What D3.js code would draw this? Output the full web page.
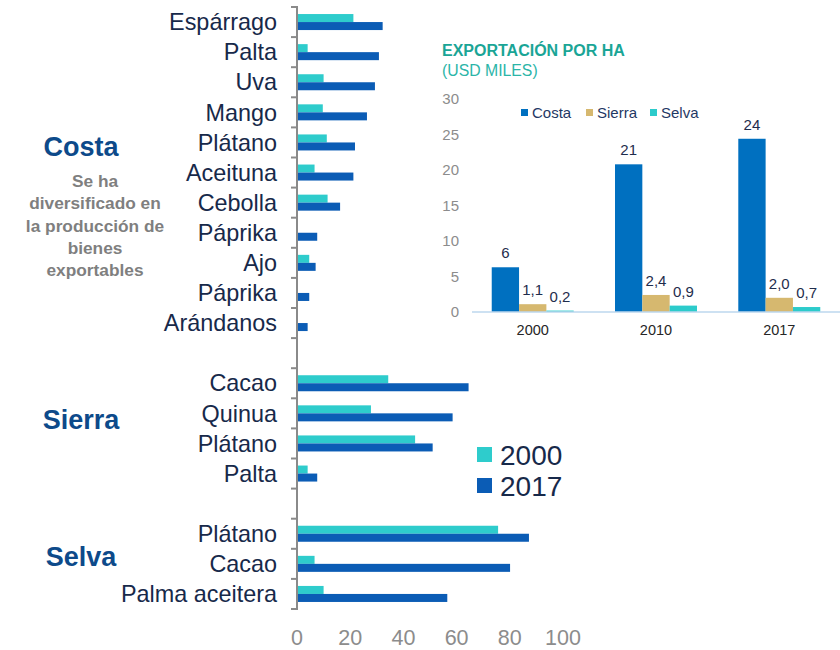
<!DOCTYPE html>
<html>
<head>
<meta charset="utf-8">
<script src="https://cdn.jsdelivr.net/npm/d3@7"></script>
<style>
  body { margin: 0; background: #fff; }
  svg { font-family: "Liberation Sans", Arial, sans-serif; }
</style>
</head>
<body>
<svg id="chart" width="840" height="650"></svg>
<script>
// Main chart data (USD miles por ha, 2000 vs 2017)
const crops = ["Espárrago", "Palta", "Uva", "Mango", "Plátano", "Aceituna", "Cebolla", "Páprika", "Ajo", "Páprika", "Arándanos",
               "", "Cacao", "Quinua", "Plátano", "Palta",
               "", "Plátano", "Cacao", "Palma aceitera"];
const values2000 = [21.2, 4.0, 10.0, 9.7, 11.2, 6.6, 11.5, 0, 4.6, 0, 0,
                    null, 34.3, 27.8, 44.4, 4.0,
                    null, 75.6, 6.6, 10.0];
const values2017 = [32.2, 30.8, 29.3, 26.3, 21.8, 21.2, 16.2, 7.6, 7.0, 4.6, 4.0,
                    null, 64.5, 58.5, 51.0, 7.6,
                    null, 87.2, 80.1, 56.5];
const xTicks = [0, 20, 40, 60, 80, 100];
const seriesYears = ["2000", "2017"];

// Inset chart data
const insetYears = ["2000", "2010", "2017"];
const insetRegions = ["Costa", "Sierra", "Selva"];
const costaHa = [6.3, 20.8, 24.4];
const sierraHa = [1.1, 2.4, 2.0];
const selvaHa = [0.2, 0.9, 0.7];

const svg = d3.select("#chart");

// ---------- main horizontal bar chart ----------
const barColor = { "2000": "#2ecccc", "2017": "#0b5cb5" };

const x = d3.scaleLinear().domain([0, 100]).range([297, 563]);
const y = d3.scaleBand().domain(d3.range(crops.length)).range([7, 609]).padding(0);
const ySub = d3.scaleBand().domain(seriesYears).range([0, y.bandwidth()]).paddingInner(0).paddingOuter(0.88);

const rows = crops.map((c, i) => ({ i, crop: c, "2000": values2000[i], "2017": values2017[i] }))
  .filter(d => d.crop !== "");

const rowG = svg.append("g").selectAll("g")
  .data(rows)
  .join("g")
  .attr("transform", d => `translate(0,${y(d.i)})`);

rowG.selectAll("rect")
  .data(d => seriesYears.map(k => ({ k, v: d[k] })).filter(e => e.v > 0))
  .join("rect")
  .attr("x", x(0))
  .attr("y", e => ySub(e.k))
  .attr("width", e => x(e.v) - x(0))
  .attr("height", ySub.bandwidth())
  .attr("fill", e => barColor[e.k]);

rowG.append("text")
  .attr("x", 277)
  .attr("y", y.bandwidth() / 2)
  .attr("dy", "0.35em")
  .attr("text-anchor", "end")
  .style("font-size", "23.4px")
  .style("fill", "#17294a")
  .text(d => d.crop);

// vertical axis with ticks between categories
const axisG = svg.append("g").attr("stroke", "#8a8a8a").attr("stroke-width", 2);
axisG.append("line")
  .attr("x1", x(0)).attr("x2", x(0))
  .attr("y1", y.range()[0] - 1).attr("y2", y.range()[1] + 1);
axisG.selectAll("line.tick")
  .data(d3.range(crops.length + 1))
  .join("line")
  .attr("class", "tick")
  .attr("x1", x(0) - 6).attr("x2", x(0))
  .attr("y1", i => y.range()[0] + i * y.step())
  .attr("y2", i => y.range()[0] + i * y.step());

svg.append("g").selectAll("text")
  .data(xTicks)
  .join("text")
  .attr("x", d => x(d))
  .attr("y", 637)
  .attr("dy", "0.35em")
  .attr("text-anchor", "middle")
  .style("font-size", "21.5px")
  .style("fill", "#8c8c8c")
  .text(d => d);

// region labels
const regionLabels = [
  { t: "Costa", i: 4.65 },
  { t: "Sierra", i: 13.7 },
  { t: "Selva", i: 18.27 }
];
svg.append("g").selectAll("text")
  .data(regionLabels)
  .join("text")
  .attr("x", 81)
  .attr("y", d => y(0) + d.i * y.step())
  .attr("dy", "0.35em")
  .attr("text-anchor", "middle")
  .style("font-size", "27px")
  .style("font-weight", "bold")
  .style("fill", "#0d4a8a")
  .text(d => d.t);

const note = ["Se ha", "diversificado en", "la producción de", "bienes", "exportables"];
svg.append("g").selectAll("text")
  .data(note)
  .join("text")
  .attr("x", 95)
  .attr("y", (d, i) => 181 + i * 22.3)
  .attr("dy", "0.35em")
  .attr("text-anchor", "middle")
  .style("font-size", "17.3px")
  .style("font-weight", "bold")
  .style("fill", "#7f7f7f")
  .text(d => d);

// main legend
const legG = svg.append("g").selectAll("g")
  .data(seriesYears)
  .join("g")
  .attr("transform", (d, i) => `translate(477,${447 + i * 31})`);
legG.append("rect").attr("width", 15).attr("height", 15).attr("fill", d => barColor[d]);
legG.append("text")
  .attr("x", 23).attr("y", 7.5).attr("dy", "0.36em")
  .style("font-size", "28px")
  .style("fill", "#17294a")
  .text(d => d);

// ---------- inset chart ----------
const regionColor = { Costa: "#0070c0", Sierra: "#d6b86f", Selva: "#2ccbcb" };
const regionValues = { Costa: costaHa, Sierra: sierraHa, Selva: selvaHa };

svg.append("text")
  .attr("x", 442).attr("y", 50).attr("dy", "0.35em")
  .style("font-size", "16px").style("font-weight", "bold")
  .style("fill", "#1aa596")
  .text("EXPORTACIÓN POR HA");
svg.append("text")
  .attr("x", 442).attr("y", 70).attr("dy", "0.35em")
  .style("font-size", "15.8px")
  .style("fill", "#2bb5a8")
  .text("(USD MILES)");

const ix = d3.scaleBand().domain(insetYears).range([472, 840]).paddingInner(0.335).paddingOuter(0.16);
const ixSub = d3.scaleBand().domain(insetRegions).range([0, ix.bandwidth()]);
const iy = d3.scaleLinear().domain([0, 30]).range([312, 99]);

svg.append("g").selectAll("text")
  .data(iy.ticks(6))
  .join("text")
  .attr("x", 459)
  .attr("y", d => iy(d))
  .attr("dy", "0.35em")
  .attr("text-anchor", "end")
  .style("font-size", "15px")
  .style("fill", "#8c8c8c")
  .text(d => d);

const fmt = (r, v) => r === "Costa" ? d3.format(".0f")(v) : d3.format(".1f")(v).replace(".", ",");

const groups = svg.append("g").selectAll("g")
  .data(insetYears.map((yr, j) => ({ yr, j })))
  .join("g")
  .attr("transform", d => `translate(${ix(d.yr)},0)`);

const bars = groups.selectAll("g")
  .data(d => insetRegions.map(r => ({ r, v: regionValues[r][d.j] })))
  .join("g");

bars.append("rect")
  .attr("x", d => ixSub(d.r))
  .attr("y", d => iy(d.v))
  .attr("width", ixSub.bandwidth())
  .attr("height", d => iy(0) - iy(d.v))
  .attr("fill", d => regionColor[d.r]);

bars.append("text")
  .attr("x", d => ixSub(d.r) + ixSub.bandwidth() / 2)
  .attr("y", d => iy(d.v) - 9)
  .attr("text-anchor", "middle")
  .style("font-size", "15px")
  .style("fill", "#1f2d4d")
  .text(d => fmt(d.r, d.v));

svg.append("line")
  .attr("x1", 472).attr("x2", 840)
  .attr("y1", iy(0)).attr("y2", iy(0))
  .attr("stroke", "#bdd7ee").attr("stroke-width", 1.5);

svg.append("g").selectAll("text")
  .data(insetYears)
  .join("text")
  .attr("x", d => ix(d) + ix.bandwidth() / 2)
  .attr("y", 330)
  .attr("dy", "0.35em")
  .attr("text-anchor", "middle")
  .style("font-size", "14.5px")
  .style("fill", "#262626")
  .text(d => d);

// inset legend
const iLeg = svg.append("g").selectAll("g")
  .data(insetRegions)
  .join("g")
  .attr("transform", (d, i) => `translate(${[521, 586, 650][i]},109)`);
iLeg.append("rect").attr("width", 7).attr("height", 7).attr("fill", d => regionColor[d]);
iLeg.append("text")
  .attr("x", 11).attr("y", 4).attr("dy", "0.35em")
  .style("font-size", "15px")
  .style("fill", "#1f3864")
  .text(d => d);
</script>
</body>
</html>
